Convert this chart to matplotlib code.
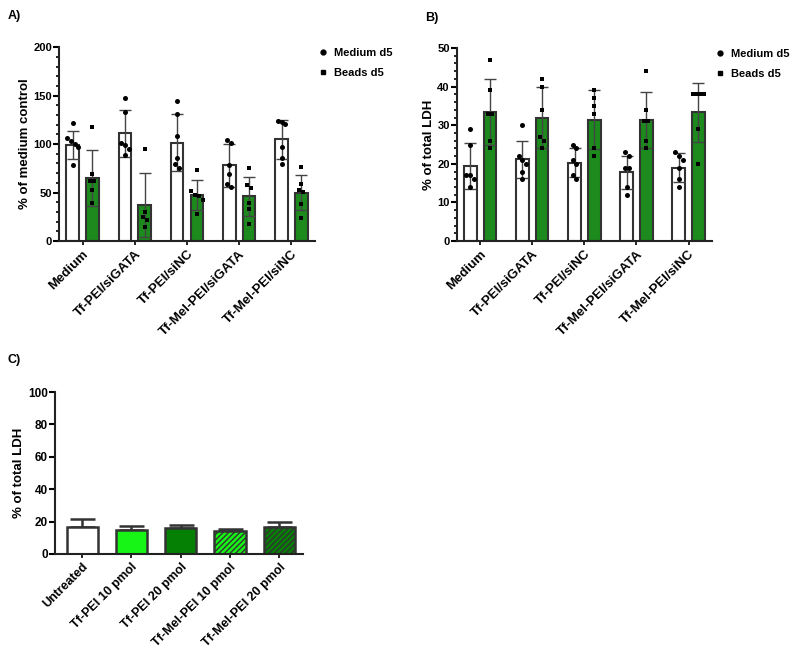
import matplotlib
matplotlib.use("Agg")
import matplotlib.pyplot as plt
from matplotlib.lines import Line2D
from matplotlib.ticker import MultipleLocator
import numpy as np

plt.rcParams["font.family"] = ["Liberation Sans", "DejaVu Sans"]
plt.rcParams["font.weight"] = "bold"
plt.rcParams["axes.labelweight"] = "bold"
plt.rcParams["hatch.linewidth"] = 1.0

GROUPS = ["Medium", "Tf-PEI/siGATA", "Tf-PEI/siNC", "Tf-Mel-PEI/siGATA", "Tf-Mel-PEI/siNC"]

# panel A: % of medium control
a_medium_mean = [99, 111, 101.5, 78, 105]
a_medium_sd = [14.5, 24, 29.5, 22, 20]
a_beads_mean = [65, 37, 47.5, 46, 50]
a_beads_sd = [28.5, 33, 15, 20.5, 18]
a_medium_pts = [
    [122, 106, 103, 100, 97, 78],
    [148, 133, 101, 99, 95, 89],
    [144, 131, 108, 86, 79, 75],
    [104, 101, 78, 69, 59, 56],
    [124, 123, 121, 97, 86, 79],
]
a_beads_pts = [
    [118, 69, 62, 62, 53, 39],
    [95, 30, 25, 22, 14],
    [73, 52, 48, 46, 42, 28],
    [75, 58, 55, 39, 33, 18],
    [76, 59, 53, 51, 38, 24],
]

# panel B: % of total LDH
b_medium_mean = [19.5, 21.2, 20.3, 17.8, 19.0]
b_medium_sd = [6.0, 4.8, 3.7, 4.2, 3.7]
b_beads_mean = [33.5, 32.0, 31.4, 31.4, 33.3]
b_beads_sd = [8.6, 8.0, 7.6, 7.3, 7.7]
b_medium_pts = [
    [29, 25, 17, 17, 16, 14],
    [30, 22, 21, 20, 18, 16],
    [25, 24, 21, 20, 17, 16],
    [23, 22, 19, 19, 14, 12],
    [23, 22, 21, 19, 16, 14],
]
b_beads_pts = [
    [47, 39, 33, 33, 26, 24],
    [42, 40, 34, 27, 26, 24],
    [39, 37, 35, 33, 24, 22],
    [44, 34, 31, 31, 26, 24],
    [38, 38, 38, 38, 29, 20],
]

# panel C: % of total LDH, transfection reagents alone
C_GROUPS = ["Untreated", "Tf-PEI 10 pmol", "Tf-PEI 20 pmol", "Tf-Mel-PEI 10 pmol", "Tf-Mel-PEI 20 pmol"]
c_mean = [16.5, 15.0, 16.0, 14.5, 16.5]
c_sd = [5.0, 2.2, 2.0, 1.2, 3.3]

GREEN = "#1c8a1c"
EDGE = "#333333"
C_COLORS = ["white", "#16f516", "#058005", "#16f516", "#058005"]
C_HATCH = ["", "", "", "//////", "//////"]


def spread(vals, tol, step=0.075):
    # GraphPad-like horizontal spreading of points with similar values
    vals = np.asarray(vals, dtype=float)
    order = np.argsort(-vals)
    offsets = np.zeros(len(vals))
    clusters = [[order[0]]]
    for idx in order[1:]:
        if vals[clusters[-1][-1]] - vals[idx] <= tol:
            clusters[-1].append(idx)
        else:
            clusters.append([idx])
    for cl in clusters:
        n = len(cl)
        for k, idx in enumerate(cl):
            offsets[idx] = (k - (n - 1) / 2) * step
    return offsets


def style_axes(ax, ymax, major, minor, labelsize=8):
    ax.set_ylim(0, ymax)
    ax.yaxis.set_major_locator(MultipleLocator(major))
    if minor:
        ax.yaxis.set_minor_locator(MultipleLocator(minor))
    for side in ["top", "right"]:
        ax.spines[side].set_visible(False)
    for side in ["left", "bottom"]:
        ax.spines[side].set_linewidth(1.5)
        ax.spines[side].set_color("#222222")
    ax.tick_params(axis="y", which="major", width=1.5, length=4, labelsize=labelsize, pad=1)
    ax.tick_params(axis="y", which="minor", width=1.2, length=2.5)
    ax.tick_params(axis="x", width=1.2, length=3, pad=2)


def grouped_panel(ax, med_mean, med_sd, med_pts, bead_mean, bead_sd, bead_pts, ymax, major, minor, tol, ylabel):
    x = np.arange(len(GROUPS))
    off, w = 0.19, 0.24
    ax.bar(x - off, med_mean, width=w, color="white", edgecolor=EDGE, linewidth=1.5, zorder=2)
    ax.bar(x + off, bead_mean, width=w, color=GREEN, edgecolor=EDGE, linewidth=1.5, zorder=2)
    ax.errorbar(x - off, med_mean, yerr=med_sd, fmt="none", ecolor="#444444", elinewidth=1, capsize=4, capthick=1, zorder=3)
    ax.errorbar(x + off, bead_mean, yerr=bead_sd, fmt="none", ecolor="#444444", elinewidth=1, capsize=4, capthick=1, zorder=3)
    for i in range(len(GROUPS)):
        ax.scatter(x[i] - off + spread(med_pts[i], tol), med_pts[i], marker="o", s=13, color="black", zorder=4, linewidths=0)
        ax.scatter(x[i] + off + spread(bead_pts[i], tol), bead_pts[i], marker="s", s=12, color="black", zorder=4, linewidths=0)
    style_axes(ax, ymax, major, minor)
    ax.set_xlim(-0.45, len(GROUPS) - 0.55)
    ax.set_xticks(x)
    ax.set_xticklabels(GROUPS, rotation=45, ha="right", rotation_mode="anchor", fontsize=9.5)
    ax.set_ylabel(ylabel, fontsize=9.5, labelpad=2)
    handles = [
        Line2D([], [], marker="o", ls="none", color="black", markersize=3.5, label="Medium d5"),
        Line2D([], [], marker="s", ls="none", color="black", markersize=3.5, label="Beads d5"),
    ]
    ax.legend(handles=handles, loc="upper left", bbox_to_anchor=(1.01, 1.0), frameon=False,
              fontsize=8, handlelength=0.8, handletextpad=0.6, labelspacing=0.85, borderaxespad=0, borderpad=0.1)


fig = plt.figure(figsize=(8, 6.55), dpi=100)

ax_a = fig.add_axes([0.07375, 0.632, 0.32, 0.296])
grouped_panel(ax_a, a_medium_mean, a_medium_sd, a_medium_pts, a_beads_mean, a_beads_sd, a_beads_pts,
              200, 50, 10, 4.0, "% of medium control")

ax_b = fig.add_axes([0.571, 0.632, 0.319, 0.2947])
grouped_panel(ax_b, b_medium_mean, b_medium_sd, b_medium_pts, b_beads_mean, b_beads_sd, b_beads_pts,
              50, 10, 2, 1.0, "% of total LDH")

ax_c = fig.add_axes([0.06875, 0.1542, 0.31, 0.2473])
xc = np.arange(len(C_GROUPS))
ax_c.errorbar(xc, c_mean, yerr=[np.zeros(len(c_sd)), c_sd], fmt="none", ecolor="#333333",
              elinewidth=1.8, capsize=9, capthick=1.8, zorder=1)
ax_c.bar(xc, c_mean, width=0.63, color=C_COLORS, edgecolor=EDGE, linewidth=1.8, zorder=2)
for patch, h in zip(ax_c.patches, C_HATCH):
    if h:
        patch.set_hatch(h)
style_axes(ax_c, 100, 20, None, labelsize=8.5)
ax_c.set_xlim(-0.55, len(C_GROUPS) - 0.52)
ax_c.set_xticks(xc)
ax_c.set_xticklabels(C_GROUPS, rotation=45, ha="right", rotation_mode="anchor", fontsize=9)
ax_c.set_ylabel("% of total LDH", fontsize=9.5, labelpad=2)

fig.text(0.009, 0.985, "A)", fontsize=9, fontweight="bold", va="top")
fig.text(0.532, 0.982, "B)", fontsize=9, fontweight="bold", va="top")
fig.text(0.009, 0.46, "C)", fontsize=9, fontweight="bold", va="top")

fig.savefig("out.png", dpi=100)
